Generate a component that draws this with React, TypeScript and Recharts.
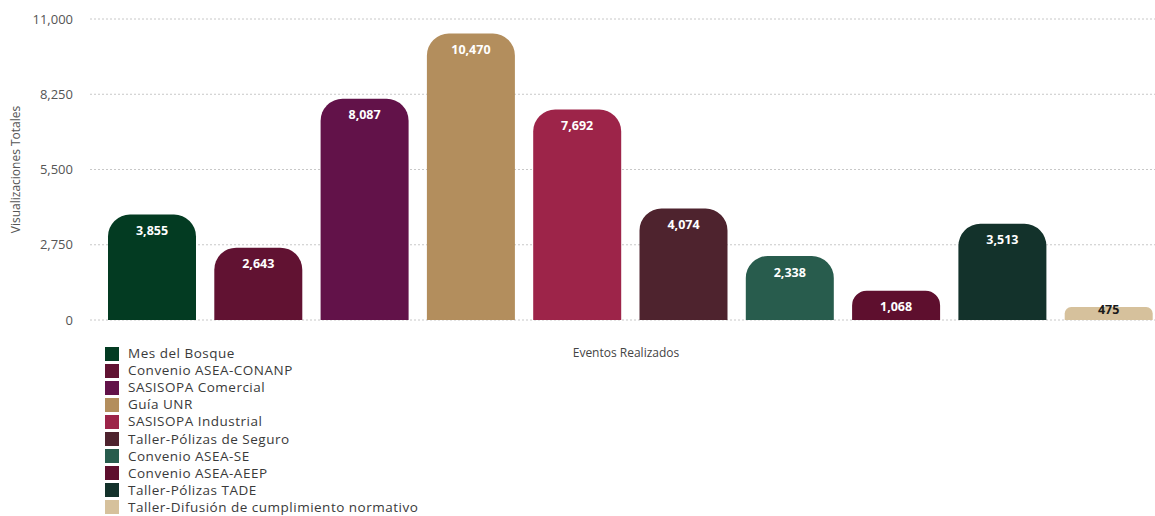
import { BarChart, Bar, XAxis, YAxis, CartesianGrid, Cell, LabelList, Legend } from "recharts"

const eventos = [
  "Mes del Bosque",
  "Convenio ASEA-CONANP",
  "SASISOPA Comercial",
  "Guía UNR",
  "SASISOPA Industrial",
  "Taller-Pólizas de Seguro",
  "Convenio ASEA-SE",
  "Convenio ASEA-AEEP",
  "Taller-Pólizas TADE",
  "Taller-Difusión de cumplimiento normativo",
]

const visualizaciones = [3855, 2643, 8087, 10470, 7692, 4074, 2338, 1068, 3513, 475]

const colores = [
  "#033b22",
  "#611232",
  "#621249",
  "#b38e5d",
  "#9d2449",
  "#4e232e",
  "#285c4d",
  "#5e0f2e",
  "#13322b",
  "#d6c19c",
]

const yTicks = [0, 2750, 5500, 8250, 11000]

const data = eventos.map((name, i) => ({ name, value: visualizaciones[i] }))

const FONT = "'Open Sans', sans-serif"

const fmt = (v: number) => v.toLocaleString("en-US")

// value label drawn near the top of each bar
const renderValue = (props: any) => {
  const { x, y, width, height, value } = props
  const small = height < 20
  return (
    <text
      x={x + width / 2}
      y={small ? y + 2 : y + 16}
      textAnchor="middle"
      dominantBaseline="central"
      fill={small ? "#1a1a1a" : "#ffffff"}
      fontSize={12.5}
      fontWeight={700}
      fontFamily={FONT}
    >
      {fmt(value)}
    </text>
  )
}

const renderLegend = () => (
  <div style={{ fontFamily: FONT, fontSize: 13.5, color: "#3a3a3a", letterSpacing: 0.5, lineHeight: "17px" }}>
    {eventos.map((name, i) => (
      <div key={name} style={{ display: "flex", alignItems: "center", height: 17.1 }}>
        <span style={{ width: 14, height: 14, background: colores[i], display: "inline-block", marginRight: 9 }} />
        <span>{name}</span>
      </div>
    ))}
  </div>
)

export default function App() {
  return (
    <div style={{ position: "absolute", left: 0, top: 0, background: "#fff" }}>
      <BarChart width={1155} height={516} data={data} margin={{ top: 19, right: -7, bottom: 0, left: 0 }}>
        <CartesianGrid vertical={false} stroke="#c8c8c8" strokeDasharray="2 2" />
        <XAxis
          dataKey="name"
          height={196}
          padding={{ left: 9, right: 0 }}
          tick={false}
          tickLine={false}
          axisLine={false}
          label={{
            value: "Eventos Realizados",
            position: "insideTop",
            offset: 28,
            fill: "#444",
            fontSize: 12,
            fontFamily: FONT,
          }}
        />
        <YAxis
          width={90}
          domain={[0, 11000]}
          ticks={yTicks}
          tickFormatter={fmt}
          axisLine={false}
          tickLine={false}
          tickSize={8}
          tickMargin={9}
          tick={{ fill: "#555", fontSize: 13, fontFamily: FONT }}
          label={{
            value: "Visualizaciones Totales",
            angle: -90,
            position: "insideLeft",
            offset: 16,
            fill: "#555",
            fontSize: 12,
            fontFamily: FONT,
            style: { textAnchor: "middle" },
          }}
        />
        <Legend
          layout="vertical"
          align="center"
          verticalAlign="middle"
          content={renderLegend}
          wrapperStyle={{ position: "absolute", left: 105, top: 345, width: 420, height: 172 }}
        />
        <Bar dataKey="value" barSize={88} radius={[22, 22, 0, 0]} isAnimationActive={false}>
          {data.map((d, i) => (
            <Cell key={d.name} fill={colores[i]} />
          ))}
          <LabelList dataKey="value" content={renderValue} />
        </Bar>
      </BarChart>
    </div>
  )
}
